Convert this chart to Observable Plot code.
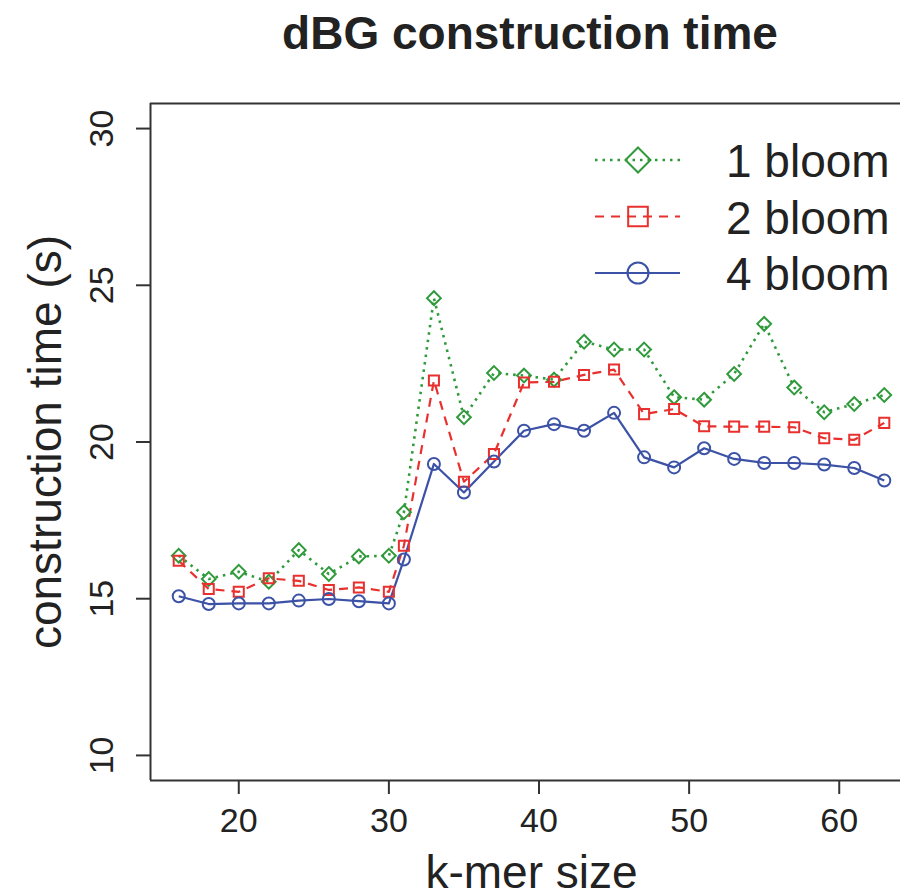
<!DOCTYPE html>
<html>
<head>
<meta charset="utf-8">
<script src="https://cdn.jsdelivr.net/npm/d3@7"></script>
<script src="https://cdn.jsdelivr.net/npm/@observablehq/plot@0.6"></script>
<style>
  body { margin: 0; background: #fff; font-family: "Liberation Sans", Arial, Helvetica, sans-serif; }
  #wrap { position: relative; width: 900px; height: 896px; overflow: hidden; }
  #title { box-sizing: border-box; height: 60px; margin-top: 3px; line-height: 60px; font-size: 46px;
           font-weight: bold; color: #222; text-align: center; padding-left: 160px; white-space: nowrap; }
  #legend { position: absolute; left: 0; top: 0; pointer-events: none; }
  #chart svg { overflow: hidden; }
</style>
</head>
<body>
<div id="wrap">
  <div id="title">dBG construction time</div>
  <div id="chart"></div>
  <svg id="legend" width="900" height="896"></svg>
</div>
<script>
// ---- data ----
const kmer = [16, 18, 20, 22, 24, 26, 28, 30, 31, 33, 35, 37, 39, 41, 43, 45, 47, 49, 51, 53, 55, 57, 59, 61, 63];
const bloom1 = [16.37, 15.63, 15.86, 15.54, 16.55, 15.79, 16.35, 16.37, 17.76, 24.59, 20.79, 22.20, 22.12, 21.99, 23.20, 22.95, 22.95, 21.43, 21.35, 22.17, 23.77, 21.74, 20.95, 21.21, 21.50];
const bloom2 = [16.21, 15.31, 15.22, 15.65, 15.57, 15.28, 15.36, 15.22, 16.69, 21.96, 18.73, 19.62, 21.90, 21.92, 22.14, 22.31, 20.89, 21.05, 20.50, 20.49, 20.49, 20.47, 20.12, 20.07, 20.61];
const bloom4 = [15.08, 14.83, 14.85, 14.85, 14.94, 14.99, 14.92, 14.85, 16.25, 19.30, 18.39, 19.38, 20.36, 20.57, 20.36, 20.93, 19.51, 19.19, 19.80, 19.46, 19.33, 19.33, 19.28, 19.17, 18.77];
const seriesNames = ["1 bloom", "2 bloom", "4 bloom"];
const xTicks = [20, 30, 40, 50, 60];
const yTicks = [10, 15, 20, 25, 30];
const titleText = "dBG construction time";
const xLabel = "k-mer size";
const yLabel = "construction time (s)";

// ---- styles ----
const xDomain = [14.12, 64.88];
const yDomain = [9.2, 30.8];
const colors = ["#2f9a3a", "#e8312f", "#3b52a6"];
const dashes = ["2.5,5", "9,7", null];
const lineW = [2.6, 2.2, 2.2];
const symbols = ["diamond2", "square2", "circle"];
const dotR = [6.2, 6.4, 6.0];
const legendR = [11.3, 12.5, 10.5];
const FONT = "'Liberation Sans', Arial, Helvetica, sans-serif";

const values = [bloom1, bloom2, bloom4];
const series = seriesNames.map((name, i) => ({
  name, color: colors[i], dash: dashes[i], w: lineW[i], symbol: symbols[i], r: dotR[i], lr: legendR[i],
  rows: kmer.map((k, j) => ({k, t: values[i][j], series: name}))
}));

const lineMarks = series.map(s => Plot.line(s.rows, {
  x: "k", y: "t", stroke: s.color, strokeWidth: s.w, strokeDasharray: s.dash || undefined, strokeLinecap: "butt"
}));
const dotMarks = series.map(s => Plot.dot(s.rows, {
  x: "k", y: "t", stroke: s.color, fill: "none", strokeWidth: 2, symbol: s.symbol, r: s.r
}));

const chart = Plot.plot({
  width: 900,
  height: 833,
  marginLeft: 150,
  marginRight: -12,
  marginTop: 40,
  marginBottom: 116,
  style: {fontFamily: FONT, color: "#222", background: "transparent"},
  x: {domain: xDomain},
  y: {domain: yDomain},
  marks: [
    ...lineMarks,
    ...dotMarks,
    Plot.ruleX([xDomain[0]], {stroke: "#333", strokeWidth: 2}),
    Plot.ruleY(yDomain, {stroke: "#333", strokeWidth: 2}),
    Plot.axisX({ticks: xTicks, tickSize: 14, tickPadding: 13, fontSize: 34, label: null, stroke: "#333", strokeWidth: 2}),
    Plot.axisY({ticks: yTicks, tickSize: 14, tickPadding: 24, tickRotate: -90, fontSize: 34, label: null, stroke: "#333", strokeWidth: 2}),
    Plot.text([xLabel], {text: d => d, frameAnchor: "bottom", lineAnchor: "bottom", dy: 107, fontSize: 46, fill: "#222"}),
    Plot.text([yLabel], {text: d => d, frameAnchor: "left", textAnchor: "middle", rotate: -90, lineAnchor: "bottom", dx: -90, fontSize: 46, fill: "#222"})
  ]
});
document.getElementById("chart").appendChild(chart);
document.getElementById("title").textContent = titleText;

// ---- legend (overlay, top-right inside plot) ----
const lg = d3.select("#legend");
const ly0 = 160, lstep = 56.5;
const symMap = {diamond2: d3.symbolDiamond2, square2: d3.symbolSquare2, circle: d3.symbolCircle};
series.forEach((s, i) => {
  const y = ly0 + i * lstep;
  lg.append("line").attr("x1", 595).attr("x2", 680).attr("y1", y).attr("y2", y)
    .attr("stroke", s.color).attr("stroke-width", s.w)
    .attr("stroke-dasharray", s.dash || null);
  lg.append("path").attr("d", d3.symbol(symMap[s.symbol], Math.PI * s.lr * s.lr)())
    .attr("transform", `translate(638,${y})`)
    .attr("fill", "none").attr("stroke", s.color).attr("stroke-width", 2);
  lg.append("text").attr("x", 726).attr("y", y + 17).text(s.name)
    .attr("font-family", FONT).attr("font-size", 46).attr("fill", "#222");
});
</script>
</body>
</html>
